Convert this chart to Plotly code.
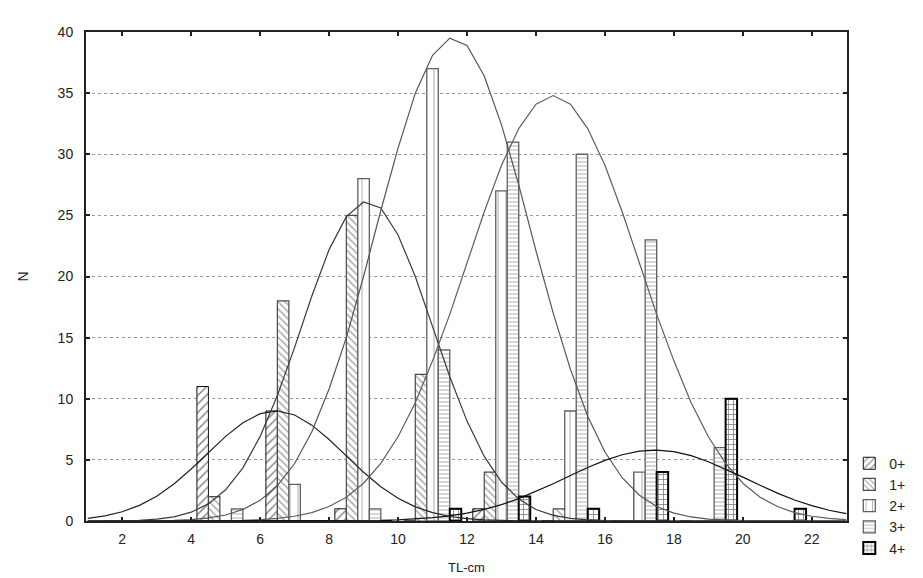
import plotly.graph_objects as go

# ---- data ----
bin_centers = [5, 7, 9, 11, 13, 15, 17, 19, 21]
age_groups = ["0+", "1+", "2+", "3+", "4+"]
n_0 = [11, 9, 1, 0, 1, 0, 0, 0, 0]
n_1 = [2, 18, 25, 12, 4, 1, 0, 0, 0]
n_2 = [0, 3, 28, 37, 27, 9, 4, 0, 0]
n_3 = [1, 0, 1, 14, 31, 30, 23, 6, 0]
n_4 = [0, 0, 0, 1, 2, 1, 4, 10, 1]

curve_x = [1.0, 1.5, 2.0, 2.5, 3.0, 3.5, 4.0, 4.5, 5.0, 5.5, 6.0, 6.5, 7.0, 7.5, 8.0,
           8.5, 9.0, 9.5, 10.0, 10.5, 11.0, 11.5, 12.0, 12.5, 13.0, 13.5, 14.0, 14.5,
           15.0, 15.5, 16.0, 16.5, 17.0, 17.5, 18.0, 18.5, 19.0, 19.5, 20.0, 20.5,
           21.0, 21.5, 22.0, 22.5, 23.0]
fit_0 = [0.22, 0.42, 0.76, 1.28, 2.03, 3.03, 4.25, 5.6, 6.92, 8.04, 8.78, 9.0, 8.67,
         7.84, 6.67, 5.33, 3.99, 2.81, 1.86, 1.16, 0.68, 0.37, 0.19, 0.09, 0.04, 0.02,
         0.01, 0, 0, 0, 0, 0, 0, 0, 0, 0, 0, 0, 0, 0, 0, 0, 0, 0, 0]
fit_1 = [0, 0.01, 0.02, 0.06, 0.15, 0.34, 0.72, 1.40, 2.55, 4.35, 6.92, 10.27, 14.2,
         18.4, 22.2, 24.9, 26.1, 25.6, 23.4, 20.0, 15.9, 11.8, 8.17, 5.28, 3.19, 1.79,
         0.94, 0.46, 0.21, 0.09, 0.04, 0.015, 0, 0, 0, 0, 0, 0, 0, 0, 0, 0, 0, 0, 0]
fit_2 = [0, 0, 0, 0.01, 0.02, 0.05, 0.12, 0.25, 0.49, 0.94, 1.69, 2.9, 4.7, 7.3, 10.8,
         15.0, 20.0, 25.4, 30.5, 35.0, 38.1, 39.5, 38.9, 36.4, 32.4, 27.5, 22.1, 17.0,
         12.4, 8.57, 5.64, 3.54, 2.11, 1.19, 0.64, 0.33, 0.16, 0.07, 0.03, 0.01, 0, 0,
         0, 0, 0]
fit_3 = [0, 0, 0, 0, 0, 0, 0, 0, 0.03, 0.06, 0.11, 0.21, 0.39, 0.69, 1.18, 1.95, 3.09,
         4.71, 6.89, 9.67, 13.1, 16.9, 21.1, 25.3, 29.1, 32.1, 34.1, 34.8, 34.1, 32.1,
         29.1, 25.3, 21.1, 16.9, 13.1, 9.67, 6.89, 4.71, 3.09, 1.95, 1.18, 0.69, 0.39,
         0.21, 0.11]
fit_4 = [0, 0, 0, 0, 0, 0, 0, 0, 0, 0, 0, 0, 0, 0, 0.01, 0.02, 0.03, 0.06, 0.10, 0.16,
         0.27, 0.42, 0.64, 0.95, 1.34, 1.83, 2.41, 3.05, 3.72, 4.38, 4.96, 5.42, 5.71,
         5.8, 5.67, 5.35, 4.85, 4.25, 3.59, 2.92, 2.28, 1.72, 1.26, 0.88, 0.6]

x_ticks = [2, 4, 6, 8, 10, 12, 14, 16, 18, 20, 22]
y_ticks = [0, 5, 10, 15, 20, 25, 30, 35, 40]

# ---- styles ----
bar_styles = [
    dict(shape="/", fg="#111111", line="#111111", lw=1.0, size=6, sol=0.25),
    dict(shape="\\", fg="#555555", line="#4a4a4a", lw=1.2, size=5, sol=0.3),
    dict(shape="|", fg="#707070", line="#606060", lw=1.3, size=8, sol=0.15),
    dict(shape="-", fg="#777777", line="#606060", lw=1.3, size=4, sol=0.3),
    dict(shape="+", fg="#000000", line="#000000", lw=2.0, size=5, sol=0.3),
]
curve_colors = ["#222222", "#3a3a3a", "#555555", "#5e5e5e", "#111111"]

counts = [n_0, n_1, n_2, n_3, n_4]
fits = [fit_0, fit_1, fit_2, fit_3, fit_4]

fig = go.Figure()
for name, vals, st in zip(age_groups, counts, bar_styles):
    fig.add_trace(go.Bar(
        x=bin_centers, y=vals, name=name,
        marker=dict(
            color="white",
            line=dict(color=st["line"], width=st["lw"]),
            pattern=dict(shape=st["shape"], fgcolor=st["fg"], bgcolor="white",
                         size=st["size"], solidity=st["sol"], fillmode="overlay"),
        ),
    ))

for name, vals, col in zip(age_groups, fits, curve_colors):
    fig.add_trace(go.Scatter(
        x=curve_x, y=vals, mode="lines", showlegend=False, hoverinfo="skip",
        line=dict(color=col, width=1.2), name=name + " fit",
    ))

font_family = "Liberation Sans, Arial, sans-serif"
fig.update_layout(
    width=923, height=578,
    margin=dict(l=86, r=76, t=32, b=57),
    paper_bgcolor="white", plot_bgcolor="white",
    barmode="group", bargap=0.167, bargroupgap=0,
    font=dict(family=font_family, size=14, color="#222222"),
    showlegend=True,
    legend=dict(x=1.003, y=0.15, xanchor="left", yanchor="top",
                font=dict(size=14, color="#222222"),
                bgcolor="rgba(0,0,0,0)", tracegroupgap=0, itemwidth=30),
    xaxis=dict(
        range=[0.95, 23.02], tickmode="array", tickvals=x_ticks,
        ticktext=[str(v) for v in x_ticks],
        showgrid=False, zeroline=False,
        showline=True, linecolor="#222222", linewidth=2, mirror="ticks",
        ticks="inside", ticklen=4, tickcolor="#222222", tickwidth=1.5,
        ticklabelstandoff=4,
        title=dict(text="TL-cm", font=dict(size=13, color="#222222"), standoff=17),
        automargin=False,
    ),
    yaxis=dict(
        range=[0, 40], tickmode="array", tickvals=y_ticks,
        ticktext=[str(v) for v in y_ticks],
        showgrid=True, gridcolor="#9a9a9a", griddash="dot", gridwidth=1,
        zeroline=False,
        showline=True, linecolor="#222222", linewidth=2, mirror="ticks",
        ticks="inside", ticklen=4, tickcolor="#222222", tickwidth=1.5,
        ticklabelstandoff=8,
        title=dict(text="N", font=dict(size=14, color="#222222"), standoff=26),
        automargin=False,
    ),
)

fig.write_html(
    "out.html",
    config={"displayModeBar": False},
    post_script="document.body.style.margin='0px';document.body.style.overflow='hidden';",
)
